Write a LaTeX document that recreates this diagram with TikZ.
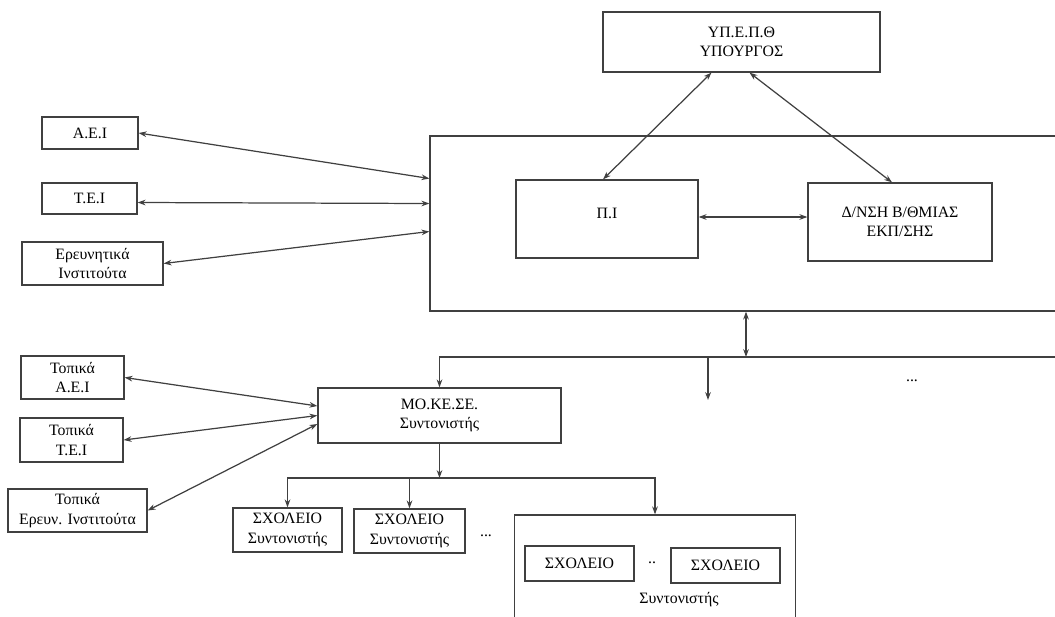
\documentclass[tikz,border=0pt]{standalone}
\usepackage{fontspec}
\setmainfont{Liberation Serif}
\usetikzlibrary{calc,arrows.meta}

\tikzset{
  box/.style 2 args={draw, minimum width=#1*0.02cm, minimum height=#2*0.02cm,
    inner sep=1pt, align=center},
  lbl/.style={inner sep=0pt, align=center},
}

\begin{document}
\begin{tikzpicture}[x=0.02cm,y=-0.02cm,line width=0.7pt,draw=black!75,
  >={Stealth[length=4.5pt,width=3.2pt]},
  font=\fontsize{9}{11}\selectfont]
\useasboundingbox (0,0) rectangle (1055,616);
\clip (0,0) rectangle (1055,616);

% top level
\node[box={277}{60}] (minister) at (741.5,42) {ΥΠ.Ε.Π.Θ\\ΥΠΟΥΡΓΟΣ};
\node[box={700}{175}] (ctrl) at (780,223.5) {};
\node[box={182}{78}] (pi) at (607,219) {};
\node[lbl] (pitext) at ($(pi)+(0,-6)$) {Π.Ι};
\node[box={184}{78}] (dnsi) at (900,222) {Δ/ΝΣΗ Β/ΘΜΙΑΣ\\ΕΚΠ/ΣΗΣ};

\node[box={96}{32}] (aei) at (90,133) {Α.Ε.Ι};
\node[box={95}{31}] (tei) at (89.5,198.5) {Τ.Ε.Ι};
\node[box={141}{43}] (erev) at (92.5,263.5) {Ερευνητικά\\Ινστιτούτα};

\draw[<->] ($(minister.south)+(-30,0)$) -- ($(pi.north)+(-4,0)$);
\draw[<->] ($(minister.south)+(8,0)$) -- ($(dnsi.north)+(-8,0)$);
\draw[<->] ($(pi.east)+(0,-2)$) -- ($(pi.east -| dnsi.west)+(0,-2)$);

\draw[<->] (aei.east) -- ($(ctrl.west)+(0,-45)$);
\draw[<->] ($(tei.east)+(0,4)$) -- ($(ctrl.west)+(0,-20)$);
\draw[<->] (erev.east) -- ($(ctrl.west)+(0,8)$);

% regional level
\coordinate (up) at ($(ctrl.south)+(-34,0)$);
\coordinate (busL) at (439.5,357);
\coordinate (busR) at (1060,357);
\coordinate (more) at (708,400);
\node[box={243}{55}] (mokese) at (439.5,415.5) {ΜΟ.ΚΕ.ΣΕ.\\Συντονιστής};

\draw[<->] (up) -- (up |- busL);
\draw[->] (busR) -- (busL) -- (mokese.north);
\draw[->] (more |- busL) -- (more);
\node[lbl] (dots1) at (912,381) {...};

\node[box={103}{43}] (taei) at (72.5,377.5) {Τοπικά\\Α.Ε.Ι};
\node[box={103}{44}] (ttei) at (71.5,440) {Τοπικά\\Τ.Ε.Ι};
\node[box={139}{43}] (terev) at (77.5,510.5) {Τοπικά\\Ερευν. Ινστιτούτα};

\draw[<->] (taei.east) -- ($(mokese.west)+(0,-9.5)$);
\draw[<->] (ttei.east) -- (mokese.west);
\draw[<->] (terev.east) -- ($(mokese.west)+(0,8.5)$);

% schools
\coordinate (bus2) at (439.5,478);
\node[box={109}{44}] (sch1) at (287.5,530) {ΣΧΟΛΕΙΟ\\Συντονιστής};
\node[box={111}{44}] (sch2) at (409.5,531) {ΣΧΟΛΕΙΟ\\Συντονιστής};
\node[lbl] (dots2) at (486,536) {...};
\node[box={281}{130}] (group) at (655,580) {};
\node[box={109}{35}] (in1) at (579.5,563.5) {ΣΧΟΛΕΙΟ};
\node[box={109}{35}] (in2) at (725.5,565.5) {ΣΧΟΛΕΙΟ};
\node[lbl] (dots3) at (652,563) {..};
\node[lbl] (coord) at (679,600) {Συντονιστής};

\draw[->] (mokese.south) -- (bus2);
\draw[->] (bus2) -| (sch1.north);
\draw[->] (bus2) -| (group.north);
\draw[->] (sch2.north |- bus2) -- (sch2.north);
\end{tikzpicture}
\end{document}
